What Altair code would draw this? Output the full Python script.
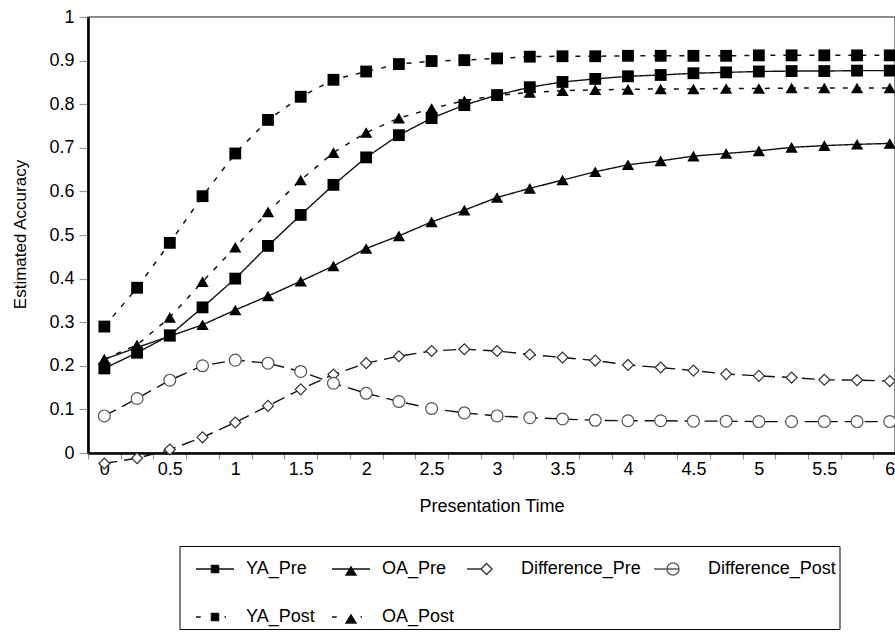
import altair as alt
import pandas as pd

# ---------------- data ----------------
time_points = [0, 0.25, 0.5, 0.75, 1, 1.25, 1.5, 1.75, 2, 2.25, 2.5, 2.75, 3,
               3.25, 3.5, 3.75, 4, 4.25, 4.5, 4.75, 5, 5.25, 5.5, 5.75, 6]

series_order = ["YA_Pre", "OA_Pre", "Difference_Pre", "Difference_Post", "YA_Post", "OA_Post"]

ya_pre = [0.194, 0.230, 0.270, 0.334, 0.400, 0.475, 0.546, 0.615, 0.678, 0.729, 0.768, 0.798, 0.821,
          0.839, 0.851, 0.858, 0.864, 0.867, 0.871, 0.873, 0.875, 0.876, 0.876, 0.877, 0.877]
oa_pre = [0.215, 0.242, 0.268, 0.294, 0.328, 0.360, 0.394, 0.429, 0.469, 0.498, 0.530, 0.557, 0.586,
          0.607, 0.626, 0.645, 0.661, 0.670, 0.681, 0.687, 0.693, 0.701, 0.705, 0.708, 0.710]
diff_pre = [-0.024, -0.012, 0.008, 0.036, 0.070, 0.108, 0.146, 0.180, 0.206, 0.222, 0.234, 0.238, 0.234,
            0.226, 0.219, 0.212, 0.202, 0.196, 0.189, 0.181, 0.177, 0.173, 0.168, 0.167, 0.165]
diff_post = [0.085, 0.125, 0.167, 0.200, 0.213, 0.206, 0.187, 0.160, 0.137, 0.118, 0.102, 0.092, 0.085,
             0.081, 0.078, 0.075, 0.074, 0.074, 0.073, 0.073, 0.072, 0.072, 0.072, 0.072, 0.072]
ya_post = [0.290, 0.379, 0.482, 0.589, 0.687, 0.764, 0.817, 0.856, 0.875, 0.892, 0.899, 0.901, 0.905,
           0.909, 0.910, 0.910, 0.911, 0.911, 0.911, 0.911, 0.912, 0.912, 0.912, 0.912, 0.912]
oa_post = [0.215, 0.248, 0.311, 0.393, 0.472, 0.553, 0.626, 0.689, 0.735, 0.768, 0.790, 0.808, 0.820,
           0.827, 0.831, 0.833, 0.834, 0.835, 0.835, 0.836, 0.836, 0.837, 0.837, 0.837, 0.837]

y_tick_values = [0, 0.1, 0.2, 0.3, 0.4, 0.5, 0.6, 0.7, 0.8, 0.9, 1]
x_tick_positions = [-0.125, 0.125, 0.375, 0.625, 0.875, 1.125, 1.375, 1.625, 1.875, 2.125, 2.375,
                    2.625, 2.875, 3.125, 3.375, 3.625, 3.875, 4.125, 4.375, 4.625, 4.875, 5.125,
                    5.375, 5.625, 5.875]

# ---------------- table ----------------
values_by_series = [ya_pre, oa_pre, diff_pre, diff_post, ya_post, oa_post]
rows = []
for name, vals in zip(series_order, values_by_series):
    for t, v in zip(time_points, vals):
        rows.append({"series": name, "time": t, "acc": v})
df = pd.DataFrame(rows)

FONT = "Liberation Sans"
X_MIN, X_MAX = -0.125, 6.04
W, H = 807, 436

x_enc = alt.X(
    "time:Q",
    scale=alt.Scale(domain=[X_MIN, X_MAX], nice=False, zero=False),
    axis=alt.Axis(
        title="Presentation Time",
        values=x_tick_positions,
        labelExpr="(datum.value + 0.125) % 0.5 < 0.01 ? format(datum.value + 0.125, '~g') : ''",
        labelOffset=0.125 * W / (X_MAX - X_MIN),
        labelOverlap=False,
        labelFlush=False,
        labelPadding=1,
        tickSize=6,
        titleY=58.7,
        titleBaseline="alphabetic",
    ),
)
y_enc = alt.Y(
    "acc:Q",
    scale=alt.Scale(domain=[0, 1], nice=False, zero=False),
    axis=alt.Axis(
        title="Estimated Accuracy",
        values=y_tick_values,
        format="~g",
        tickSize=9,
        labelPadding=5,
        titleX=-68,
        titleY=217,
        titleAngle=270,
        titleAlign="center",
        titleBaseline="middle",
        titleFontSize=17,
    ),
)

base = alt.Chart(df)


def line_layer(names, dash, width):
    return base.transform_filter(
        alt.FieldOneOfPredicate(field="series", oneOf=names)
    ).mark_line(color="#111", strokeWidth=width, strokeDash=dash).encode(
        x=x_enc, y=y_enc, detail="series:N"
    )


lines_pre = line_layer(["YA_Pre", "OA_Pre"], [1, 0], 1.4)
lines_diff = line_layer(["Difference_Pre", "Difference_Post"], [13, 7], 1.4)
lines_post = line_layer(["YA_Post", "OA_Post"], [5, 8], 1.5)

squares = base.transform_filter(
    alt.FieldOneOfPredicate(field="series", oneOf=["YA_Pre", "YA_Post"])
).mark_point(shape="square", filled=True, color="black", size=140, opacity=1).encode(x=x_enc, y=y_enc)

triangles = base.transform_filter(
    alt.FieldOneOfPredicate(field="series", oneOf=["OA_Pre", "OA_Post"])
).mark_point(shape="triangle-up", filled=True, color="black", size=150, opacity=1).encode(x=x_enc, y=y_enc)

diamonds = base.transform_filter(
    alt.FieldEqualPredicate(field="series", equal="Difference_Pre")
).mark_point(shape="diamond", filled=True, fill="white", stroke="#333", strokeWidth=1.2,
             size=120, opacity=1).encode(x=x_enc, y=y_enc)

circles = base.transform_filter(
    alt.FieldEqualPredicate(field="series", equal="Difference_Post")
).mark_point(shape="circle", filled=True, fill="white", stroke="#555", strokeWidth=1.2,
             size=140, opacity=1).encode(x=x_enc, y=y_enc)

# legend symbols: line segment + marker, as in the reference legend
legend_paths = [
    "M-1,0H1M-0.19,-0.19H0.19V0.19H-0.19Z",
    "M-1,0H1M0,-0.12L0.27,0.32H-0.27Z",
    "M-1.21,0H-0.47M-0.18,-0.29L0.11,0L-0.18,0.29L-0.47,0Z",
    "M-1.21,0H0.11M-0.21,-0.32A0.32,0.32 0 1 1 -0.21,0.32A0.32,0.32 0 1 1 -0.21,-0.32Z",
    "M-1,0H-0.75M-0.19,-0.19H0.19V0.19H-0.19ZM0.5,0H0.58",
    "M-1,0H-0.75M0,-0.12L0.27,0.32H-0.27ZM0.5,0H0.58",
]
legend_fills = ["black", "black", "white", "white", "black", "black"]
legend_strokes = ["#111", "#111", "#333", "#555", "#111", "#111"]

legend_def = alt.Legend(
    title=None,
    orient="none",
    legendX=91.5,
    legendY=529,
    direction="horizontal",
    columns=4,
    symbolSize=1444,
    symbolStrokeWidth=1.3,
    symbolOpacity=1,
    symbolOffset=12.5,
    labelOffset=11,
    labelFontSize=18,
    labelFont=FONT,
    labelColor="black",
    labelLimit=400,
    columnPadding=3,
    rowPadding=19,
    padding=3,
    strokeColor="black",
)

# layer that only carries the legend (its rows are filtered away, the scale domain is explicit)
legend_layer = base.transform_filter("datum.time > 100").mark_point(
    filled=False, strokeWidth=1.3, opacity=1
).encode(
    x=x_enc,
    y=y_enc,
    shape=alt.Shape("series:N", scale=alt.Scale(domain=series_order, range=legend_paths), legend=legend_def),
    fill=alt.Fill("series:N", scale=alt.Scale(domain=series_order, range=legend_fills), legend=legend_def),
    stroke=alt.Stroke("series:N", scale=alt.Scale(domain=series_order, range=legend_strokes), legend=legend_def),
)

chart = alt.layer(lines_pre, lines_diff, lines_post, legend_layer, squares, triangles, diamonds, circles).properties(
    width=W,
    height=H,
    autosize=alt.AutoSizeParams(type="none"),
    padding={"left": 88, "top": 17, "right": 0, "bottom": 186},
    background="white",
).configure_view(
    stroke="#666", strokeWidth=1.5
).configure_axis(
    grid=False,
    domainColor="black",
    domainWidth=2.6,
    tickColor="#999",
    tickWidth=1.2,
    labelFont=FONT,
    labelFontSize=18,
    labelColor="black",
    titleFont=FONT,
    titleFontSize=18,
    titleFontWeight="normal",
    titleColor="black",
)

chart.save("out.html", embed_options={"renderer": "svg", "actions": False})
